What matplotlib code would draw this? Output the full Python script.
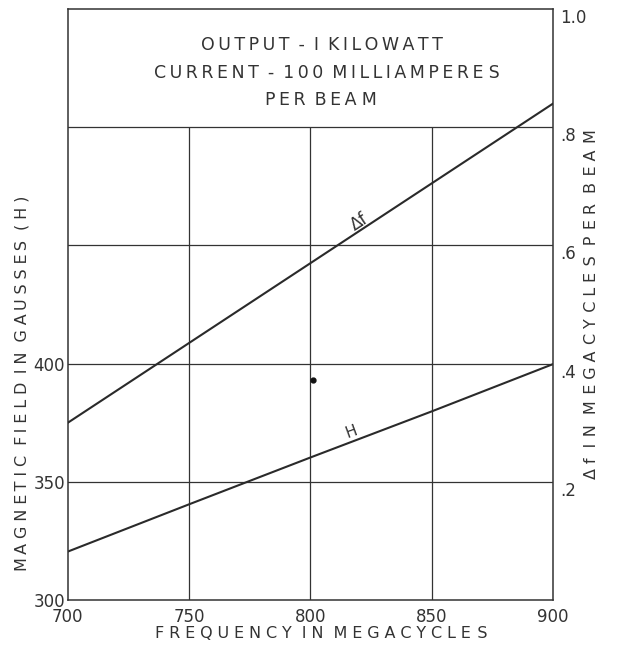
import matplotlib
matplotlib.use('Agg')
import matplotlib.pyplot as plt
import numpy as np

# frequency in megacycles
freq = [700, 750, 800, 850, 900]
# magnetic field in gausses
field = [320.5, 340.5, 360.3, 379.8, 399.8]
# delta f, megacycles per beam
delta_f = [0.30, 0.435, 0.57, 0.705, 0.84]

x_ticks = [700, 750, 800, 850, 900]
h_ticks = [300, 350, 400]
df_ticks = [0.2, 0.4, 0.6, 0.8, 1.0]
df_labels = ['.2', '.4', '.6', '.8', '1.0']

ink = '#333333'
plt.rcParams['font.family'] = ['DejaVu Sans']

W, H = 622, 648
fig = plt.figure(figsize=(W / 100, H / 100), dpi=100)
ax = fig.add_axes([0.109, 0.074, 0.780, 0.912])
ax.set_xlim(700, 900)
ax.set_ylim(300, 550)

for s in ax.spines.values():
    s.set_color(ink)
    s.set_linewidth(1.1)

# grid: horizontal lines across, vertical lines stop under the note box
for h in [350, 400, 450, 500]:
    ax.axhline(h, color=ink, lw=0.9)
ax.vlines([750, 800, 850], 300, 500, color=ink, lw=0.9)

ax.plot(freq, field, color='#2a2a2a', lw=1.5)
ax.plot([801], [393], 'o', color='#111111', ms=3.5)

ax.set_xticks(x_ticks)
ax.set_yticks(h_ticks)
ax.tick_params(length=0, labelsize=12, colors=ink)
ax.tick_params(axis='x', pad=6)
ax.tick_params(axis='y', pad=2)

ax2 = ax.twinx()
ax2.set_ylim(0, 1.0)
ax2.plot(freq, delta_f, color='#2a2a2a', lw=1.5)
ax2.set_yticks(df_ticks)
ax2.set_yticklabels(df_labels)
ax2.tick_params(length=0, labelsize=12, colors=ink, pad=5)
for lbl in ax2.get_yticklabels():
    lbl.set_verticalalignment('top')
for s in ax2.spines.values():
    s.set_visible(False)

ax2.text(820, 0.64, '\u0394f', fontsize=12, color=ink, rotation=33,
         ha='center', va='center')
ax.text(817, 371, 'H', fontsize=11, color=ink, rotation=20,
        ha='center', va='center')

renderer = fig.canvas.get_renderer()


def span_of(t):
    bb = t.get_window_extent(renderer)
    return max(bb.width, bb.height)


def lettered(x, y, txt, size, span, rotation=0):
    # stencil-style lettering: spread hair spaces between characters
    # (none right after a word space) until the line fills span px
    t = fig.text(x / W, 1 - y / H, txt, fontsize=size, color=ink,
                 rotation=rotation, ha='center', va='center')
    w0 = span_of(t)
    t.set_text('\u200a'.join(txt))
    hair = (span_of(t) - w0) / (len(txt) - 1)
    slots = [i for i in range(1, len(txt)) if txt[i - 1] != ' ']
    n = max(0, int(round((span - w0) / hair)))
    out = ''
    k = 0
    for i, ch in enumerate(txt):
        if i in slots:
            out += '\u200a' * (n * (k + 1) // len(slots) - n * k // len(slots))
            k += 1
        out += ch
    t.set_text(out)
    return t


lettered(322, 45, 'OUTPUT - I KILOWATT', 12.5, 245)
lettered(327, 73, 'CURRENT - 100 MILLIAMPERES', 12.5, 345)
lettered(321, 100, 'PER BEAM', 12.5, 112)
lettered(321, 634, 'FREQUENCY IN MEGACYCLES', 11.5, 335)
lettered(22, 383, 'MAGNETIC FIELD IN GAUSSES (H)', 11.5, 375, rotation=90)
lettered(591, 304, '\u0394f IN MEGACYCLES PER BEAM', 11.5, 352, rotation=90)

fig.savefig('out.png', dpi=100)
